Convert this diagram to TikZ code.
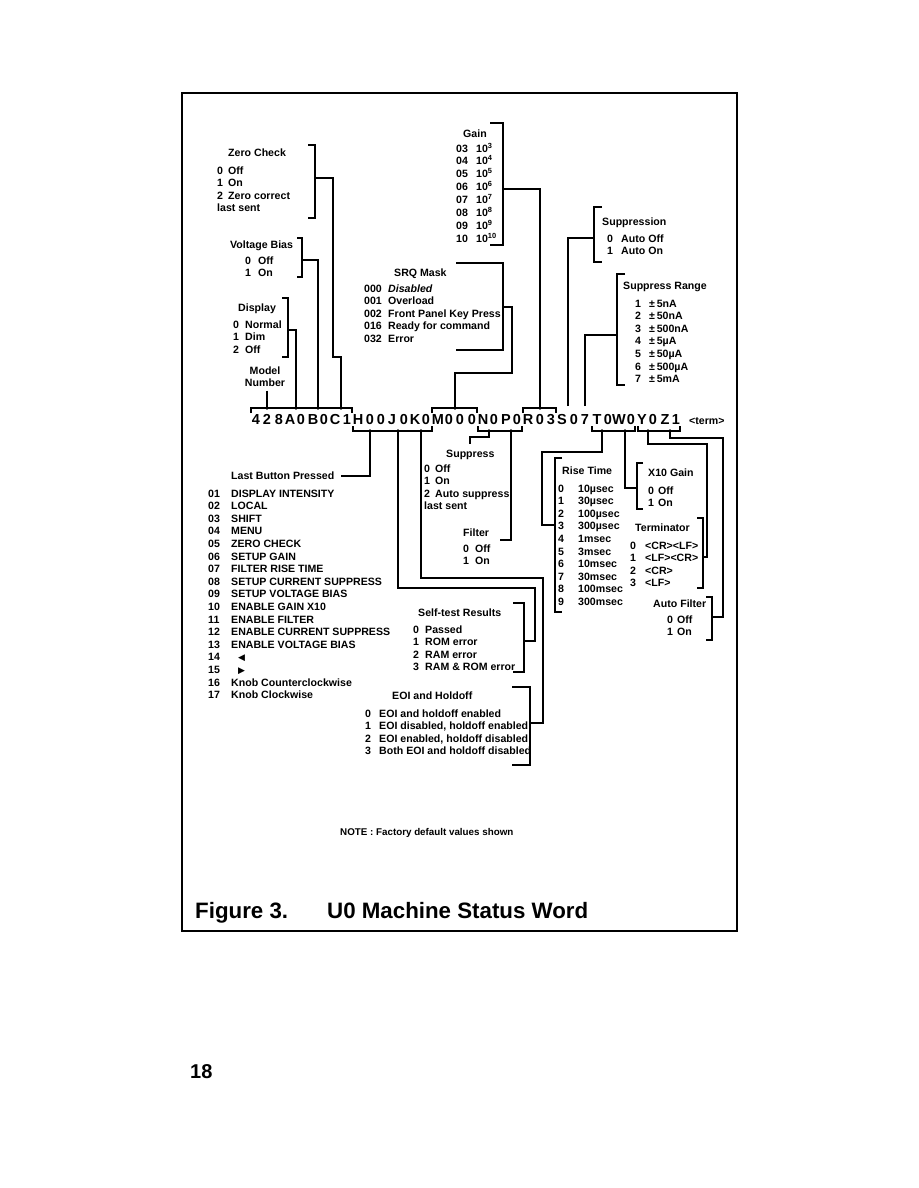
\documentclass[tikz,border=0pt]{standalone}
\usepackage{fontspec}
\setmainfont{Liberation Sans}
\newfontfamily\symfont{DejaVu Sans}
\usetikzlibrary{calc}
\tikzset{
  txt/.style={font=\fontsize{10.6}{12.6}\selectfont\bfseries, inner sep=0pt, anchor=base west},
  wchar/.style={font=\fontsize{14.5}{16}\selectfont\bfseries, inner sep=0pt, anchor=base},
  big/.style={font=\fontsize{22.3}{25}\selectfont\bfseries, inner sep=0pt, anchor=base west},
  wire/.style={line width=1.8pt}
}
\newcommand\wx[1]{{round(256+11.35*(#1))}}
\newcommand\rbrk[4]{\draw[wire] ({#1-#4},#2) -| (#1,#3) -- ++(-#4,0);}
\newcommand\lbrk[4]{\draw[wire] ({#1+#4},#2) -| (#1,#3) -- ++(#4,0);}
\newcommand\vlist[2]{\begin{tabular}[t]{@{}p{#1}@{}l@{}}#2\end{tabular}}
\newcommand\tri[1]{\hspace{7pt}{\symfont\fontsize{9}{10}\selectfont #1}}
\begin{document}
\begin{tikzpicture}[x=1pt,y=-1pt]
  \fill[white] (0,0) rectangle (918,1188);
  \draw[line width=2.4pt] (182,93) rectangle (737,931);
  % status word
  \foreach \ch [count=\i from 0] in {4,2,8,A,0,B,0,C,1,H,0,0,J,0,K,0,M,0,0,0,N,0,P,0,R,0,3,S,0,7,T,0,W,0,Y,0,Z,1}
    \node[wchar] (c\i) at (\wx{\i},424) {\ch};
  \node[txt] (term) at (689,424) {<term>};
  \draw[wire] (251,413) |- (352,408) -- (352,413); \draw[wire] (432,413) |- (477,408) -- (477,413); \draw[wire] (523,413) |- (556,408) -- (556,413);
  \draw[wire] (353,426) |- (432,431) -- (432,426); \draw[wire] (478,426) |- (522,431) -- (522,426);
  \draw[wire] (592,426) |- (635,431) -- (635,426); \draw[wire] (638,426) |- (680,431) -- (680,426);
  \coordinate (pModel) at (\wx{1},408); \coordinate (pA) at (\wx{3.5},408); \coordinate (pB) at (\wx{5.5},408); \coordinate (pC) at (\wx{7.5},408);
  \coordinate (pM) at (\wx{17.5},408); \coordinate (pR) at (\wx{25},408); \coordinate (pS) at (\wx{27.5},406); \coordinate (pSeven) at (\wx{29},406);
  \coordinate (pH) at (\wx{10},431); \coordinate (pJ) at (\wx{12.5},431); \coordinate (pK) at (\wx{14.5},431); \coordinate (pN) at (\wx{20.5},431); \coordinate (pP) at (\wx{22.5},431);
  \coordinate (pT) at (\wx{30.5},431); \coordinate (pW) at (\wx{32.5},431); \coordinate (pY) at (\wx{34.5},431); \coordinate (pZ) at (\wx{36.5},431);
  \foreach \p in {pModel,pA,pB,pC,pM,pR,pH,pJ,pK,pN,pP,pT,pW,pY,pZ} \fill (\p) circle (1.9);
  % upper left blocks
  \node[txt] (zcH) at (228,157) {Zero Check};
  \node[txt] (zcL) at (217,174) {\vlist{11pt}{0&Off\\1&On\\2&Zero correct\\\multicolumn{2}{@{}l@{}}{last sent}}};
  \rbrk{315}{145}{218}{7} \coordinate (zcE) at (315,178);
  \node[txt] (vbH) at (230,248) {Voltage Bias};
  \node[txt] (vbL) at (245,264) {\vlist{13pt}{0&Off\\1&On}};
  \rbrk{302}{238}{277}{5} \coordinate (vbE) at (302,260);
  \node[txt] (dpH) at (238,311) {Display};
  \node[txt] (dpL) at (233,328) {\vlist{12pt}{0&Normal\\1&Dim\\2&Off}};
  \rbrk{288}{298}{357}{6} \coordinate (dpE) at (288,330);
  \node[txt, anchor=base] (model) at (265,374) {\begin{tabular}[t]{@{}c@{}}Model\\Number\end{tabular}};
  \draw[wire] (zcE) -| (333,357) -| (pC); \draw[wire] (vbE) -| (pB); \draw[wire] (dpE) -| (pA);
  \draw[wire] (model.south -| pModel) -- (pModel);
  % gain and SRQ
  \node[txt] (gnH) at (463,137) {Gain};
  \node[txt] (gnL) at (456,152) {\vlist{20pt}{03&10\textsuperscript{3}\\04&10\textsuperscript{4}\\05&10\textsuperscript{5}\\06&10\textsuperscript{6}\\07&10\textsuperscript{7}\\08&10\textsuperscript{8}\\09&10\textsuperscript{9}\\10&10\textsuperscript{10}}};
  \rbrk{503}{123}{245}{13} \coordinate (gnE) at (503,189);
  \node[txt] (srqH) at (394,276) {SRQ Mask};
  \node[txt] (srqL) at (364,292) {\vlist{24pt}{000&\textit{Disabled}\\001&Overload\\002&Front Panel Key Press\\016&Ready for command\\032&Error}};
  \rbrk{503}{263}{350}{47} \coordinate (srqE) at (503,307);
  \draw[wire] (pM) |- (512,373) |- (srqE); \draw[wire] (pR) |- (gnE);
  % suppression
  \lbrk{594}{207}{262}{8} \coordinate (snE) at (594,238);
  \node[txt] (snH) at (602,225) {Suppression};
  \node[txt] (snL) at (607,242) {\vlist{14pt}{0&Auto Off\\1&Auto On}};
  \lbrk{617}{274}{385}{8} \coordinate (srE) at (617,335);
  \node[txt] (srH) at (623,289) {Suppress Range};
  \node[txt] (srL) at (635,307) {\vlist{14pt}{1&±\,5nA\\2&±\,50nA\\3&±\,500nA\\4&±\,5µA\\5&±\,50µA\\6&±\,500µA\\7&±\,5mA}};
  \draw[wire] (pS) |- (snE); \draw[wire] (pSeven) |- (srE);
  % lower left
  \node[txt] (lbH) at (231,479) {Last Button Pressed}; \coordinate (lbE) at (341,476);
  \node[txt] (lbL) at (208,497) {\vlist{23pt}{01&DISPLAY INTENSITY\\02&LOCAL\\03&SHIFT\\04&MENU\\05&ZERO CHECK\\06&SETUP GAIN\\07&FILTER RISE TIME\\08&SETUP CURRENT SUPPRESS\\09&SETUP VOLTAGE BIAS\\10&ENABLE GAIN X10\\11&ENABLE FILTER\\12&ENABLE CURRENT SUPPRESS\\13&ENABLE VOLTAGE BIAS\\14&\tri{◀}\\15&\tri{▶}\\16&Knob Counterclockwise\\17&Knob Clockwise}};
  \node[txt] (spH) at (446,457) {Suppress}; \coordinate (spE) at (470,444);
  \node[txt] (spL) at (424,472) {\vlist{11pt}{0&Off\\1&On\\2&Auto suppress\\\multicolumn{2}{@{}l@{}}{last sent}}};
  \node[txt] (flH) at (463,536) {Filter}; \coordinate (flE) at (500,540);
  \node[txt] (flL) at (463,552) {\vlist{12pt}{0&Off\\1&On}};
  \node[txt] (stH) at (418,616) {Self-test Results};
  \node[txt] (stL) at (413,633) {\vlist{12pt}{0&Passed\\1&ROM error\\2&RAM error\\3&RAM \& ROM error}};
  \rbrk{524}{603}{672}{11} \coordinate (stE) at (524,641);
  \node[txt] (eoH) at (392,699) {EOI and Holdoff};
  \node[txt] (eoL) at (365,717) {\vlist{14pt}{0&EOI and holdoff enabled\\1&EOI disabled, holdoff enabled\\2&EOI enabled, holdoff disabled\\3&Both EOI and holdoff disabled}};
  \rbrk{530}{687}{765}{18} \coordinate (eoE) at (530,723);
  \draw[wire] (pH) |- (lbE); \draw[wire] (pN) -- ++(0,6) -| (spE); \draw[wire] (pP) |- (flE);
  \draw[wire] (pJ) |- (535,588) |- (stE); \draw[wire] (pK) |- (543,578) |- (eoE);
  % lower right
  \lbrk{555}{458}{612}{7} \coordinate (rtE) at (555,525);
  \node[txt] (rtH) at (562,474) {Rise Time};
  \node[txt] (rtL) at (558,492) {\vlist{20pt}{0&10µsec\\1&30µsec\\2&100µsec\\3&300µsec\\4&1msec\\5&3msec\\6&10msec\\7&30msec\\8&100msec\\9&300msec}};
  \lbrk{637}{463}{509}{6} \coordinate (xgE) at (637,488);
  \node[txt] (xgH) at (648,476) {X10 Gain};
  \node[txt] (xgL) at (648,494) {\vlist{10pt}{0&Off\\1&On}};
  \node[txt] (tmH) at (635,531) {Terminator};
  \node[txt] (tmL) at (630,549) {\vlist{15pt}{0&<CR><LF>\\1&<LF><CR>\\2&<CR>\\3&<LF>}};
  \rbrk{703}{518}{588}{6} \coordinate (tmE) at (703,557);
  \node[txt] (afH) at (653,607) {Auto Filter};
  \node[txt] (afL) at (667,623) {\vlist{10pt}{0&Off\\1&On}};
  \rbrk{712}{597}{640}{6} \coordinate (afE) at (712,617);
  \draw[wire] (pT) |- (542,452) |- (rtE); \draw[wire] (pW) |- (xgE);
  \draw[wire] (pY) |- (707,444) |- (tmE); \draw[wire] (pZ) |- (723,438) |- (afE);
  % captions
  \node[txt, font=\fontsize{9.8}{11}\selectfont\bfseries] (note) at (340,835) {NOTE : Factory default values shown};
  \node[big] (fig) at (195,918) {Figure 3.}; \node[big] (ttl) at (327,918) {U0 Machine Status Word};
  \node[big, font=\fontsize{20}{22}\selectfont\bfseries] (page) at (190,1078) {18};
\end{tikzpicture}
\end{document}
